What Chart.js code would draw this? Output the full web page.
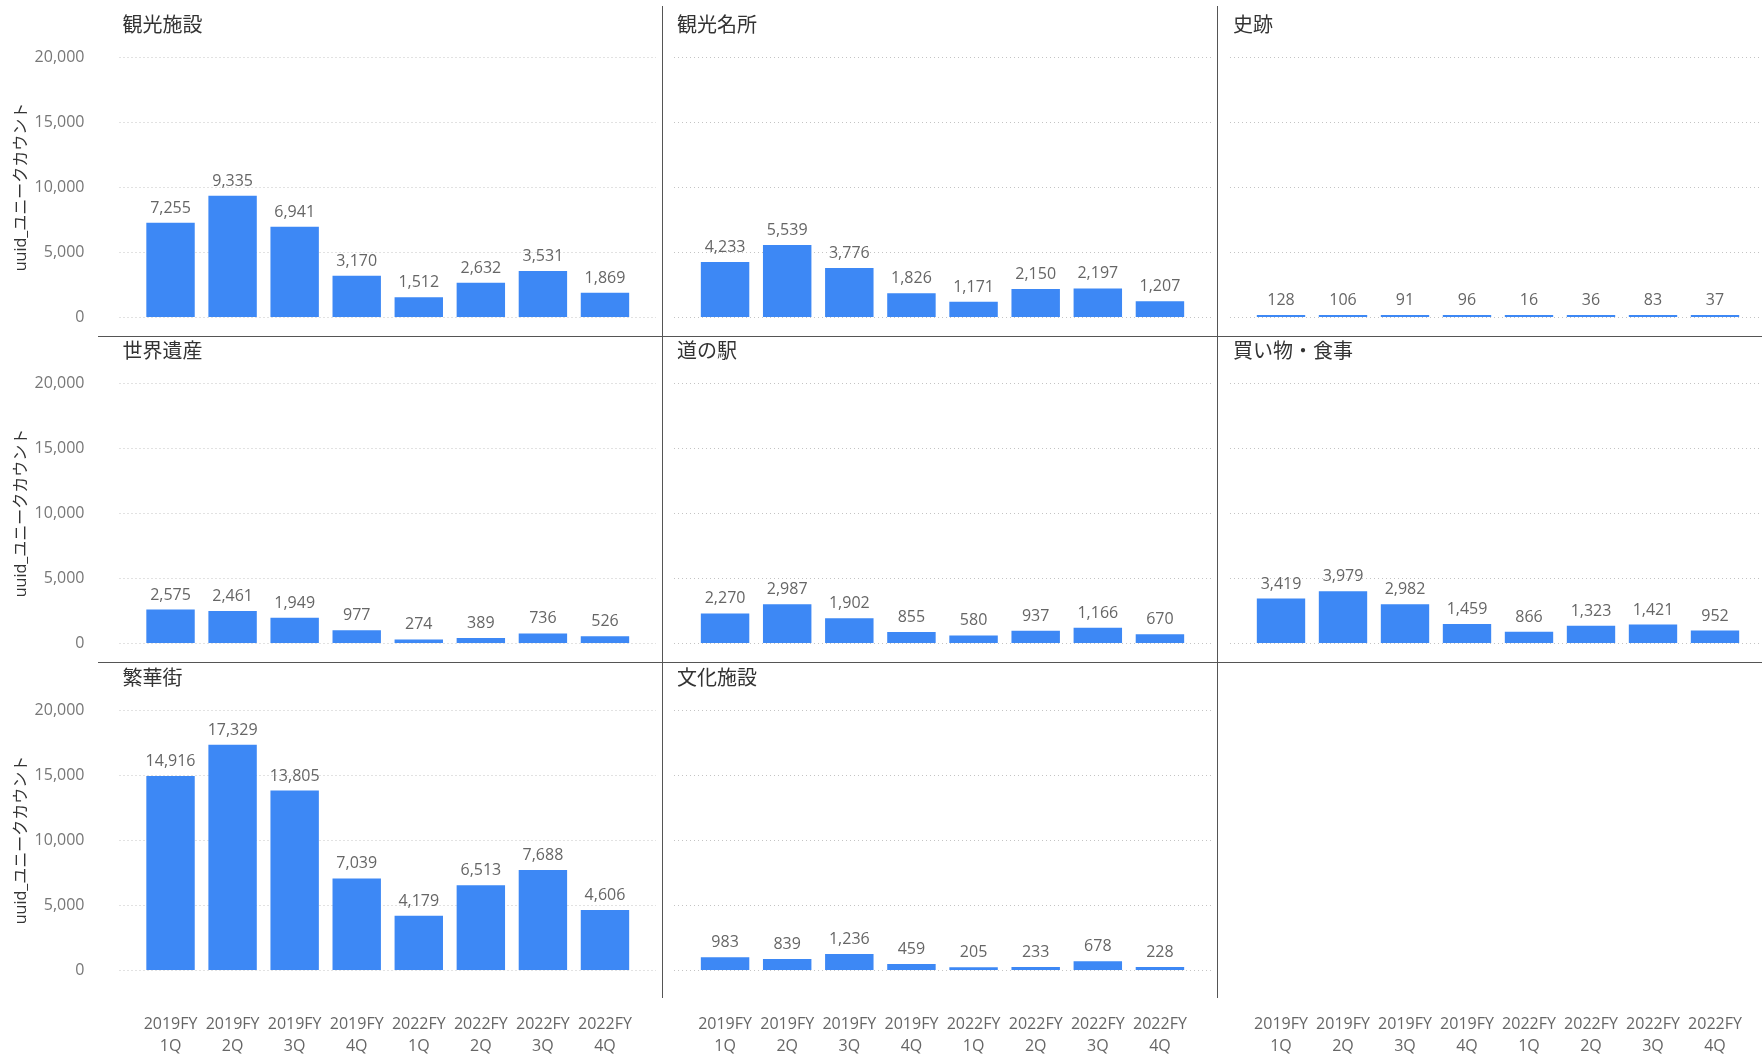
<!DOCTYPE html>
<html>
<head>
<meta charset="utf-8">
<script src="https://cdn.jsdelivr.net/npm/chart.js@4.4.0/dist/chart.umd.min.js"></script>
<style>
html, body { margin: 0; padding: 0; background: #fff; overflow: hidden; }
body { width: 1762px; height: 1054px; position: relative; }
canvas { position: absolute; }
.hline { position: absolute; height: 1px; background: #555; }
.vline { position: absolute; width: 1px; background: #555; }
</style>
</head>
<body>
<div class="hline" style="left:98px; top:336px; width:1664px;"></div>
<div class="hline" style="left:98px; top:662px; width:1664px;"></div>
<div class="vline" style="left:662px; top:6px; height:992px;"></div>
<div class="vline" style="left:1217px; top:6px; height:992px;"></div>
<script>
// data
const categories = [
  ['2019FY', '1Q'], ['2019FY', '2Q'], ['2019FY', '3Q'], ['2019FY', '4Q'],
  ['2022FY', '1Q'], ['2022FY', '2Q'], ['2022FY', '3Q'], ['2022FY', '4Q']
];
const yTicks = [0, 5000, 10000, 15000, 20000];
const yTitle = 'uuid_ユニークカウント';
const panelNames = ['観光施設', '観光名所', '史跡', '世界遺産', '道の駅', '買い物・食事', '繁華街', '文化施設'];

const kankoShisetsu = [7255, 9335, 6941, 3170, 1512, 2632, 3531, 1869];
const kankoMeisho   = [4233, 5539, 3776, 1826, 1171, 2150, 2197, 1207];
const shiseki       = [128, 106, 91, 96, 16, 36, 83, 37];
const sekaiIsan     = [2575, 2461, 1949, 977, 274, 389, 736, 526];
const michiNoEki    = [2270, 2987, 1902, 855, 580, 937, 1166, 670];
const kaimono       = [3419, 3979, 2982, 1459, 866, 1323, 1421, 952];
const hankagai      = [14916, 17329, 13805, 7039, 4179, 6513, 7688, 4606];
const bunkaShisetsu = [983, 839, 1236, 459, 205, 233, 678, 228];

const seriesList = [kankoShisetsu, kankoMeisho, shiseki, sekaiIsan, michiNoEki, kaimono, hankagai, bunkaShisetsu];

const FONT = "'Open Sans', 'Noto Sans CJK JP', sans-serif";
Chart.defaults.font.family = FONT;
Chart.defaults.color = '#666';

// dotted horizontal grid, a bit wider than the bar area
const dottedGrid = {
  id: 'dottedGrid',
  beforeDatasetsDraw(chart, args, opts) {
    if (!opts.show) return;
    const { ctx, chartArea, scales: { y } } = chart;
    ctx.save();
    ctx.strokeStyle = '#c4c4c4';
    ctx.lineWidth = 1;
    ctx.setLineDash([1, 3]);
    yTicks.forEach(function (v) {
      const py = Math.round(y.getPixelForValue(v)) + 0.5;
      ctx.beginPath();
      ctx.moveTo(chartArea.left - 20, py);
      ctx.lineTo(Math.min(chart.width, chartArea.right + 20), py);
      ctx.stroke();
    });
    ctx.restore();
  }
};

// value above each bar
const valueLabels = {
  id: 'valueLabels',
  afterDatasetsDraw(chart) {
    const ctx = chart.ctx;
    const meta = chart.getDatasetMeta(0);
    const values = chart.data.datasets[0].data;
    ctx.save();
    ctx.font = '16px ' + FONT;
    ctx.fillStyle = '#666';
    ctx.textAlign = 'center';
    ctx.textBaseline = 'alphabetic';
    meta.data.forEach(function (bar, i) {
      if (values[i] == null) return;
      ctx.fillText(values[i].toLocaleString('en-US'), bar.x, bar.y - 10);
    });
    ctx.restore();
  }
};

// panel caption at top-left
const panelTitle = {
  id: 'panelTitle',
  afterDraw(chart, args, opts) {
    if (!opts.text) return;
    const ctx = chart.ctx;
    ctx.save();
    ctx.font = '20px ' + FONT;
    ctx.fillStyle = '#333';
    ctx.textAlign = 'left';
    ctx.textBaseline = 'middle';
    ctx.fillText(opts.text, chart.chartArea.left - 17, chart.chartArea.top - 31);
    ctx.restore();
  }
};

const cols = [
  { left: 0, width: 662, padL: 0, padR: 26 },
  { left: 662, width: 555, padL: 32, padR: 26 },
  { left: 1217, width: 545, padL: 33, padR: 16 }
];
const rows = [
  { top: 0, height: 336, padT: 57, padB: 19, xAxis: false },
  { top: 336, height: 326, padT: 47, padB: 19, xAxis: false },
  { top: 662, height: 392, padT: 48, padB: 0, xAxis: true }
];

for (let r = 0; r < 3; r++) {
  for (let c = 0; c < 3; c++) {
    const idx = r * 3 + c;
    const values = seriesList[idx] || [];
    const col = cols[c], row = rows[r];
    const showY = c === 0;
    const canvas = document.createElement('canvas');
    canvas.width = col.width;
    canvas.height = row.height;
    canvas.style.left = col.left + 'px';
    canvas.style.top = row.top + 'px';
    document.body.appendChild(canvas);

    new Chart(canvas.getContext('2d'), {
      type: 'bar',
      data: {
        labels: categories,
        datasets: [{
          data: values,
          backgroundColor: '#3d88f5',
          barPercentage: 0.78,
          categoryPercentage: 1,
          minBarLength: 2
        }]
      },
      options: {
        responsive: false,
        animation: false,
        layout: { padding: { left: col.padL, right: col.padR, top: row.padT, bottom: row.padB } },
        plugins: {
          legend: { display: false },
          tooltip: { enabled: false },
          dottedGrid: { show: idx < 8 },
          panelTitle: { text: panelNames[idx] || '' }
        },
        scales: {
          x: {
            display: row.xAxis,
            grid: { display: false, drawTicks: false },
            border: { display: false },
            ticks: {
              padding: 43,
              autoSkip: false,
              maxRotation: 0,
              color: '#666',
              font: { size: 16, lineHeight: 1.375 }
            },
            afterFit: function (s) {
              if (row.xAxis) { s.height = 84; s.paddingLeft = 0; s.paddingRight = 0; }
            }
          },
          y: {
            display: showY,
            min: 0,
            max: 20000,
            grid: { display: false, drawTicks: false },
            border: { display: false },
            ticks: {
              stepSize: 5000,
              padding: 55,
              color: '#777',
              font: { size: 16 },
              callback: function (v) { return v.toLocaleString('en-US'); }
            },
            title: {
              display: true,
              text: yTitle,
              color: '#333',
              font: { size: 16 },
              padding: { top: 12, bottom: 0 }
            },
            afterFit: function (s) {
              if (showY) { s.width = 139.5; s.paddingTop = 0; s.paddingBottom = 0; }
            }
          }
        }
      },
      plugins: [dottedGrid, valueLabels, panelTitle]
    });
  }
}
</script>
</body>
</html>
